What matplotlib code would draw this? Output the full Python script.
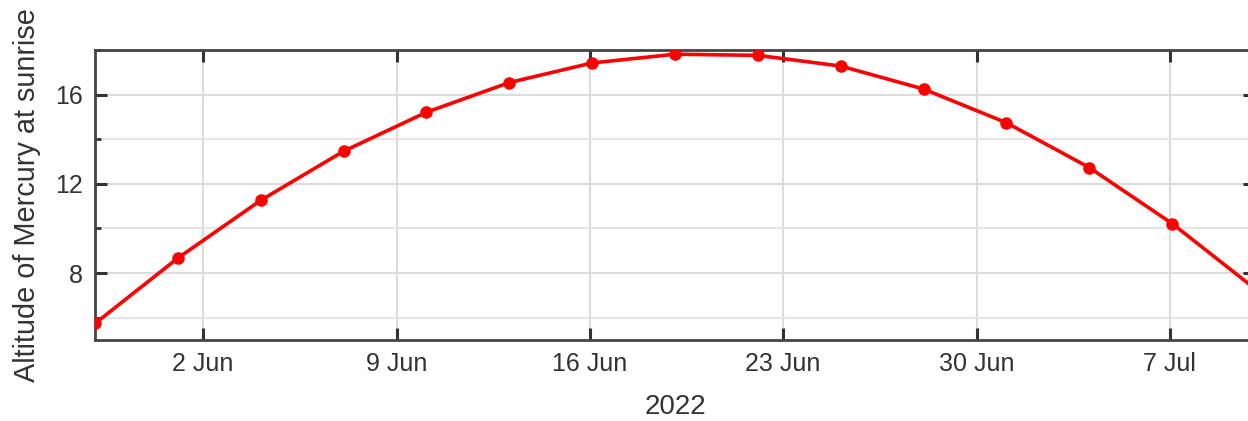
import matplotlib
matplotlib.use("Agg")
import matplotlib.pyplot as plt
import matplotlib.dates as mdates
from matplotlib.ticker import MultipleLocator
import datetime as dt

# Data
dates = ["2022-05-29 02:00", "2022-06-01 02:00", "2022-06-04 02:00", "2022-06-07 02:00",
         "2022-06-10 02:00", "2022-06-13 02:00", "2022-06-16 02:00", "2022-06-19 02:00",
         "2022-06-22 02:00", "2022-06-25 02:00", "2022-06-28 02:00", "2022-07-01 02:00",
         "2022-07-04 02:00", "2022-07-07 02:00", "2022-07-10 02:00"]
altitude = [5.74, 8.67, 11.26, 13.46, 15.21, 16.54, 17.42, 17.81,
            17.76, 17.28, 16.25, 14.74, 12.73, 10.22, 7.3]
y_label = "Altitude of Mercury at sunrise"
x_label = "2022"

x = [dt.datetime.strptime(d, "%Y-%m-%d %H:%M") for d in dates]

plt.rcParams['font.family'] = ['Liberation Sans', 'DejaVu Sans']

fig = plt.figure(figsize=(12.48, 4.21), dpi=100)
ax = fig.add_axes([95/1248, 81/421, 1160/1248, 290/421])

ax.plot(x, altitude, color="#ff0000", lw=2.6, marker="o", ms=8, zorder=3, clip_on=True)

ax.set_xlim(x[0], x[-1])
ax.set_ylim(5, 18)

ax.xaxis.set_major_locator(mdates.WeekdayLocator(byweekday=mdates.TH))
ax.xaxis.set_major_formatter(mdates.DateFormatter("%-d %b"))
ax.yaxis.set_major_locator(MultipleLocator(4))
ax.yaxis.set_minor_locator(MultipleLocator(2))

ax.grid(True, which="major", axis="both", color="#dcdcdc", lw=1.5)
ax.grid(True, which="minor", axis="y", color="#e6e6e6", lw=1.5)
ax.set_axisbelow(True)

for s in ax.spines.values():
    s.set_color("#444444")
    s.set_linewidth(2)

ax.tick_params(which="major", direction="in", length=8.6, width=2.2, color="#333333",
               top=True, right=True, labelsize=18, labelcolor="#333333", pad=8.6)
ax.tick_params(which="minor", direction="in", length=4.3, width=2.0, color="#333333",
               top=False, right=True, bottom=False)

ax.set_ylabel(y_label, fontsize=20.8, color="#333333", labelpad=10)
ax.set_xlabel(x_label, fontsize=20, color="#333333", labelpad=13)

fig.savefig("out.png", dpi=100)
